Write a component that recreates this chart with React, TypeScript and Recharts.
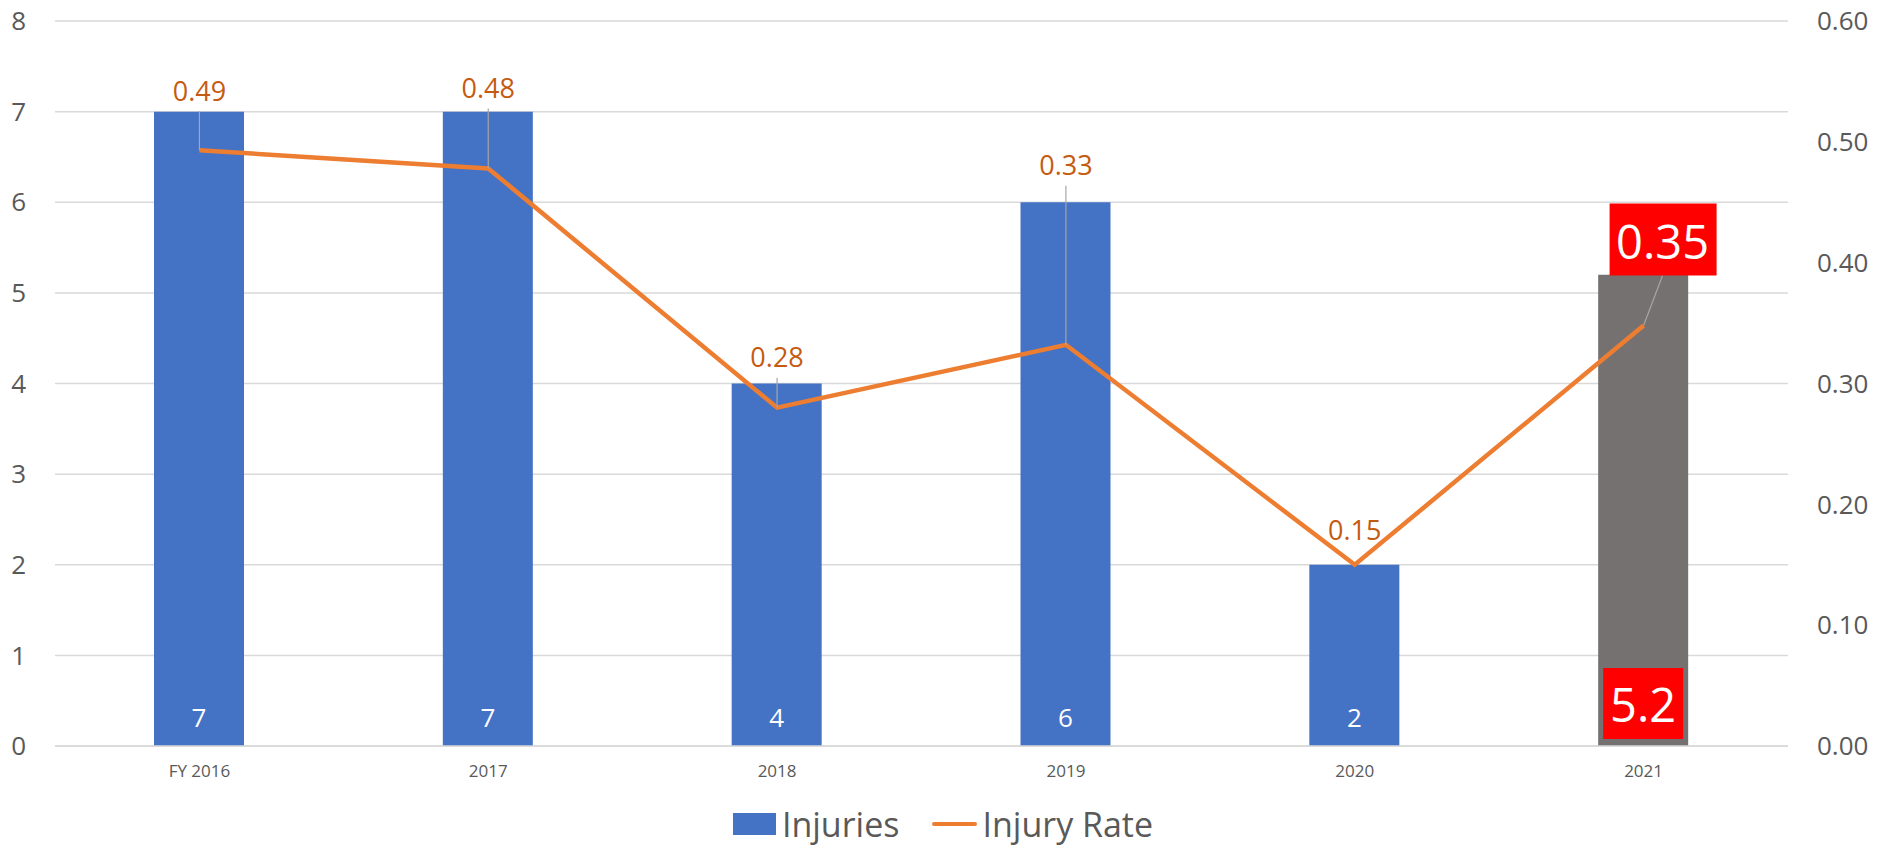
import { ComposedChart, Bar, Line, XAxis, YAxis, CartesianGrid, Legend, Cell, LabelList } from 'recharts'

const YEARS = ['FY 2016', '2017', '2018', '2019', '2020', '2021']
const INJURIES = [7, 7, 4, 6, 2, 5.2]
const INJURY_RATE = [0.493, 0.478, 0.28, 0.332, 0.15, 0.348]
const LEFT_TICKS = [0, 1, 2, 3, 4, 5, 6, 7, 8]
const RIGHT_TICKS = [0, 0.1, 0.2, 0.3, 0.4, 0.5, 0.6]

// the last year is the projected one, drawn grey with red callouts
const BAR_COLORS = ['#4472C4', '#4472C4', '#4472C4', '#4472C4', '#4472C4', '#767171']
const HIGHLIGHT = 5
// where Excel's rate labels were dragged to, relative to the point
const RATE_LABEL_DY = [-60, -81, -51, -180, -35, -85]
const RATE_LABEL_DX = [0, 0, 0, 0, 0, 19]

const FONT = '"Open Sans", sans-serif'
const GREY = '#595959'

const data = YEARS.map((year, i) => ({ year, injuries: INJURIES[i], rate: INJURY_RATE[i] }))

function RateLabel(props: any) {
  const { x, y, value, index } = props
  const lx = x + RATE_LABEL_DX[index]
  const ly = y + RATE_LABEL_DY[index]
  const text = Number(value).toFixed(2)
  if (index === HIGHLIGHT) {
    return (
      <g>
        <line x1={lx} y1={ly + 35} x2={x} y2={y} stroke="#a6a6a6" strokeWidth={1.2} />
        <rect x={lx - 53} y={ly - 37} width={107} height={72} fill="#FF0000" />
        <text x={lx} y={ly} textAnchor="middle" dominantBaseline="central" fill="#fff" fontSize={47} fontFamily={FONT}>
          {text}
        </text>
      </g>
    )
  }
  const gap = y - ly
  return (
    <g>
      {gap > 40 && <line x1={x} y1={ly + 21} x2={x} y2={y} stroke="#a6a6a6" strokeWidth={1.2} />}
      <text x={lx} y={ly} textAnchor="middle" dominantBaseline="central" fill="#C55A11" fontSize={27} fontFamily={FONT}>
        {text}
      </text>
    </g>
  )
}

function BarLabel(props: any) {
  const { x, y, width, height, value, index } = props
  const cx = x + width / 2
  const bottom = y + height
  if (index === HIGHLIGHT) {
    return (
      <g>
        <rect x={cx - 40} y={bottom - 78} width={80} height={71} fill="#FF0000" />
        <text x={cx} y={bottom - 42} textAnchor="middle" dominantBaseline="central" fill="#fff" fontSize={47} fontFamily={FONT}>
          {value}
        </text>
      </g>
    )
  }
  return (
    <text x={cx} y={bottom - 29} textAnchor="middle" dominantBaseline="central" fill="#fff" fontSize={26} fontFamily={FONT}>
      {value}
    </text>
  )
}

function ChartLegend() {
  return (
    <div
      style={{
        display: 'flex',
        justifyContent: 'center',
        alignItems: 'center',
        height: 50,
        paddingRight: 12,
        boxSizing: 'border-box',
        fontFamily: FONT,
        fontSize: 34,
        lineHeight: 1,
        color: GREY,
      }}
    >
      <span style={{ display: 'inline-block', width: 43, height: 22, background: '#4472C4', marginRight: 6 }} />
      <span>Injuries</span>
      <span style={{ display: 'inline-block', width: 45, height: 4, borderRadius: 2, background: '#ED7D31', marginLeft: 33, marginRight: 5 }} />
      <span>Injury Rate</span>
    </div>
  )
}

export default function App() {
  return (
    <div style={{ position: 'absolute', left: 0, top: 0, width: 1898, height: 849, background: '#fff' }}>
      <ComposedChart width={1898} height={849} data={data} margin={{ top: 21, right: 0, left: 0, bottom: 0 }}>
        <CartesianGrid yAxisId="left" vertical={false} stroke="#d9d9d9" strokeWidth={1.5} />
        <XAxis
          dataKey="year"
          height={53}
          axisLine={{ stroke: '#d9d9d9', strokeWidth: 1.5 }}
          tickLine={false}
          tickSize={0}
          tickMargin={19}
          tick={{ fill: GREY, fontSize: 17, fontFamily: FONT }}
        />
        <YAxis
          yAxisId="left"
          width={55}
          domain={[0, 8]}
          ticks={LEFT_TICKS}
          axisLine={false}
          tickLine={false}
          tickSize={0}
          tickMargin={29}
          tick={{ fill: GREY, fontSize: 26, fontFamily: FONT }}
        />
        <YAxis
          yAxisId="right"
          orientation="right"
          width={110}
          domain={[0, 0.6]}
          ticks={RIGHT_TICKS}
          tickFormatter={(v: number) => v.toFixed(2)}
          axisLine={false}
          tickLine={false}
          tickSize={0}
          tickMargin={29}
          tick={{ fill: GREY, fontSize: 26, fontFamily: FONT, textAnchor: 'start' }}
        />
        <Legend verticalAlign="bottom" height={50} content={() => <ChartLegend />} />
        <Bar yAxisId="left" dataKey="injuries" name="Injuries" barSize={90} isAnimationActive={false}>
          {data.map((_, i) => (
            <Cell key={i} fill={BAR_COLORS[i]} />
          ))}
          <LabelList dataKey="injuries" content={BarLabel} />
        </Bar>
        <Line
          yAxisId="right"
          dataKey="rate"
          name="Injury Rate"
          type="linear"
          stroke="#ED7D31"
          strokeWidth={4.5}
          dot={false}
          isAnimationActive={false}
        >
          <LabelList dataKey="rate" content={RateLabel} />
        </Line>
      </ComposedChart>
    </div>
  )
}
